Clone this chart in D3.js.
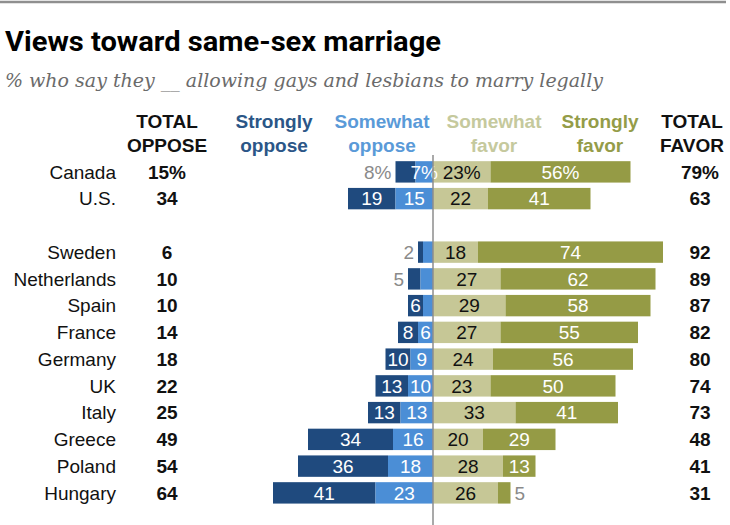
<!DOCTYPE html>
<html>
<head>
<meta charset="utf-8">
<script src="https://cdn.jsdelivr.net/npm/d3@7"></script>
<style>
  html, body { margin: 0; padding: 0; background: #fff; }
  svg { display: block; }
</style>
</head>
<body>
<svg id="chart" width="730" height="525"></svg>
<script>
// ---- Data ----
const countries = ["Canada", "U.S.", "Sweden", "Netherlands", "Spain", "France", "Germany", "UK", "Italy", "Greece", "Poland", "Hungary"];
const stronglyOppose = [8, 19, 2, 5, 6, 8, 10, 13, 13, 34, 36, 41];
const somewhatOppose = [7, 15, 4, 5, 4, 6, 9, 10, 13, 16, 18, 23];
const somewhatFavor  = [23, 22, 18, 27, 29, 27, 24, 23, 33, 20, 28, 26];
const stronglyFavor  = [56, 41, 74, 62, 58, 55, 56, 50, 41, 29, 13, 5];
const totalOppose    = [15, 34, 6, 10, 10, 14, 18, 22, 25, 49, 54, 64];
const totalFavor     = [79, 63, 92, 89, 87, 82, 80, 74, 73, 48, 41, 31];
const headerLabels = [
  ["TOTAL", "OPPOSE"], ["Strongly", "oppose"], ["Somewhat", "oppose"],
  ["Somewhat", "favor"], ["Strongly", "favor"], ["TOTAL", "FAVOR"]
];
const title = "Views toward same-sex marriage";
const subtitle = "% who say they __ allowing gays and lesbians to marry legally";

// ---- Styles ----
const colors = {
  so: "#1f4a7e", wo: "#4b8ed6", wf: "#c6c796", sf: "#959b45"
};
const headerColors = ["#111", "#2b5687", "#5a9ad8", "#c5c99d", "#949c48", "#111"];
const headerX = [167, 274, 382, 494, 600, 692];
const sansFont = "'Liberation Sans', Arial, sans-serif";

const svg = d3.select("#chart");

// top rule
svg.append("line").attr("x1", 0).attr("x2", 726).attr("y1", 2).attr("y2", 2)
  .attr("stroke", "#8f8f8f").attr("stroke-width", 2.5);

// Title
svg.append("text").attr("x", 5).attr("y", 51)
  .attr("font-family", "'Liberation Sans Narrow', 'Roboto', 'Liberation Sans', sans-serif")
  .attr("font-weight", "bold").attr("font-size", 28)
  .attr("textLength", 436).attr("lengthAdjust", "spacingAndGlyphs")
  .attr("fill", "#000").text(title);

// Subtitle
svg.append("text").attr("x", 5).attr("y", 87)
  .attr("font-family", "'DejaVu Serif', 'Liberation Serif', Georgia, serif")
  .attr("font-style", "italic").attr("font-size", 18)
  .attr("textLength", 598).attr("lengthAdjust", "spacingAndGlyphs")
  .attr("fill", "#6b6b6b").text(subtitle);

// Headers
headerLabels.forEach((lines, i) => {
  const t = svg.append("text")
    .attr("x", headerX[i]).attr("text-anchor", "middle")
    .attr("font-family", sansFont).attr("font-weight", "bold")
    .attr("font-size", 19).attr("fill", headerColors[i]);
  lines.forEach((ln, j) => {
    t.append("tspan").attr("x", headerX[i]).attr("y", 128 + j * 23.5).text(ln);
  });
});

// ---- Scales ----
const slots = ["Canada", "U.S.", "_gap_", ...countries.slice(2)];
const y = d3.scaleBand().domain(slots).range([158.5, 506.25])
  .paddingInner(0.2).paddingOuter(0.1);
const x = d3.scaleLinear().domain([0, 100]).range([433, 683]);
const w = v => x(v) - x(0);

const rows = countries.map((c, i) => ({
  c, i,
  so: stronglyOppose[i], wo: somewhatOppose[i],
  wf: somewhatFavor[i], sf: stronglyFavor[i],
  to: totalOppose[i], tf: totalFavor[i],
  pct: i === 0 ? "%" : ""
}));

const g = svg.append("g");
const rowG = g.selectAll("g.row").data(rows).join("g")
  .attr("class", "row")
  .attr("transform", d => `translate(0,${y(d.c)})`);
const bh = y.bandwidth();
const cy = bh / 2;

// bars
rowG.append("rect").attr("x", d => x(0) - w(d.so + d.wo)).attr("y", 0)
  .attr("width", d => w(d.so)).attr("height", bh).attr("fill", colors.so);
rowG.append("rect").attr("x", d => x(0) - w(d.wo)).attr("y", 0)
  .attr("width", d => w(d.wo)).attr("height", bh).attr("fill", colors.wo);
rowG.append("rect").attr("x", x(0)).attr("y", 0)
  .attr("width", d => w(d.wf)).attr("height", bh).attr("fill", colors.wf);
rowG.append("rect").attr("x", d => x(d.wf)).attr("y", 0)
  .attr("width", d => w(d.sf)).attr("height", bh).attr("fill", colors.sf);

function valText(sel) {
  return sel.attr("font-family", sansFont).attr("font-size", 19)
    .attr("dy", "0.36em").attr("y", cy);
}
const fitsInside = d => v => v >= (d.pct ? 10 : 6);

rowG.each(function(d) {
  const gg = d3.select(this);
  const inside = fitsInside(d);
  const x0 = x(0) - w(d.so + d.wo);
  const t = valText(gg.append("text")).text(d.so + d.pct);
  if (inside(d.so)) {
    t.attr("x", x0 + w(d.so) / 2).attr("text-anchor", "middle").attr("fill", "#fff");
  } else {
    t.attr("x", x0 - 4).attr("text-anchor", "end").attr("fill", "#8a8a8a");
  }
  // somewhat oppose
  if (d.wo >= 6) {
    valText(gg.append("text")).text(d.wo + d.pct)
      .attr("x", x(0) - w(d.wo) / 2).attr("text-anchor", "middle").attr("fill", "#fff");
  }
  // somewhat favor
  valText(gg.append("text")).text(d.wf + d.pct)
    .attr("x", x(d.wf / 2)).attr("text-anchor", "middle").attr("fill", "#111");
  // strongly favor
  const t2 = valText(gg.append("text")).text(d.sf + d.pct);
  if (inside(d.sf)) {
    t2.attr("x", x(d.wf + d.sf / 2)).attr("text-anchor", "middle").attr("fill", "#fff");
  } else {
    t2.attr("x", x(d.wf + d.sf) + 4).attr("text-anchor", "start").attr("fill", "#8a8a8a");
  }
});

// country labels
rowG.append("text").attr("x", 116).attr("y", cy).attr("dy", "0.36em")
  .attr("text-anchor", "end").attr("font-family", sansFont).attr("font-size", 19)
  .attr("fill", "#111").text(d => d.c);

// totals
rowG.append("text").attr("x", 167).attr("y", cy).attr("dy", "0.36em")
  .attr("text-anchor", "middle").attr("font-family", sansFont).attr("font-weight", "bold")
  .attr("font-size", 19).attr("fill", "#111").text(d => d.to + d.pct);
rowG.append("text").attr("x", 700).attr("y", cy).attr("dy", "0.36em")
  .attr("text-anchor", "middle").attr("font-family", sansFont).attr("font-weight", "bold")
  .attr("font-size", 19).attr("fill", "#111").text(d => d.tf + d.pct);

// center line
svg.append("line").attr("x1", x(0)).attr("x2", x(0)).attr("y1", 155).attr("y2", 525)
  .attr("stroke", "#8c8c8c").attr("stroke-width", 1.5);
</script>
</body>
</html>
